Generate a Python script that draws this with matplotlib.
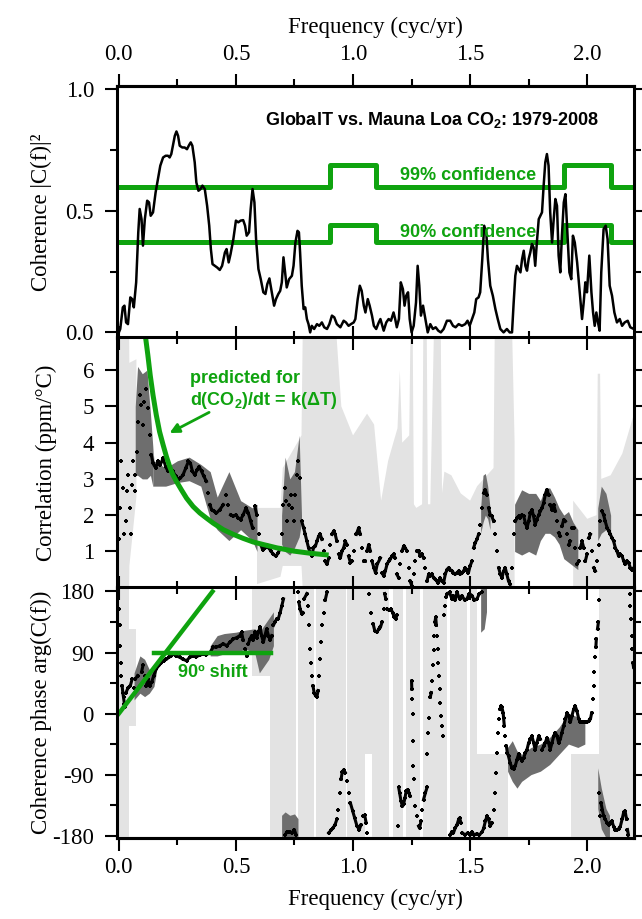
import numpy as np
import matplotlib.pyplot as plt
from matplotlib.ticker import FixedLocator, FormatStrFormatter

# ---- panel 1: squared coherence ----
coherence_pts = [
    (0.000, 0.000), (0.006, 0.014), (0.017, 0.103), (0.024, 0.110), (0.031, 0.041), (0.039, 0.034),
    (0.049, 0.144), (0.057, 0.137), (0.064, 0.103), (0.074, 0.206), (0.083, 0.412), (0.089, 0.508),
    (0.097, 0.466), (0.103, 0.357), (0.111, 0.466), (0.121, 0.542), (0.129, 0.535), (0.136, 0.480),
    (0.146, 0.494), (0.157, 0.576), (0.167, 0.631), (0.177, 0.686), (0.189, 0.720), (0.200, 0.727),
    (0.210, 0.727), (0.217, 0.720), (0.224, 0.734), (0.231, 0.768), (0.239, 0.809), (0.246, 0.827),
    (0.253, 0.809), (0.260, 0.768), (0.271, 0.761), (0.281, 0.761), (0.291, 0.754), (0.300, 0.771),
    (0.307, 0.782), (0.314, 0.768), (0.324, 0.700), (0.331, 0.617), (0.340, 0.583), (0.349, 0.590),
    (0.357, 0.604), (0.367, 0.590), (0.377, 0.521), (0.386, 0.439), (0.393, 0.343), (0.400, 0.281),
    (0.410, 0.274), (0.420, 0.267), (0.431, 0.257), (0.441, 0.274), (0.453, 0.329), (0.460, 0.343),
    (0.469, 0.288), (0.477, 0.322), (0.489, 0.384), (0.500, 0.460), (0.510, 0.453), (0.520, 0.460),
    (0.531, 0.462), (0.539, 0.439), (0.546, 0.398), (0.556, 0.412), (0.563, 0.508), (0.571, 0.590),
    (0.579, 0.535), (0.586, 0.384), (0.596, 0.261), (0.606, 0.219), (0.617, 0.165), (0.626, 0.158),
    (0.634, 0.199), (0.643, 0.222), (0.653, 0.165), (0.663, 0.110), (0.671, 0.137), (0.681, 0.158),
    (0.689, 0.171), (0.696, 0.206), (0.703, 0.309), (0.710, 0.247), (0.717, 0.185), (0.727, 0.219),
    (0.739, 0.233), (0.746, 0.274), (0.754, 0.370), (0.763, 0.418), (0.769, 0.412), (0.774, 0.329),
    (0.781, 0.192), (0.789, 0.096), (0.796, 0.103), (0.803, 0.055), (0.810, 0.034), (0.817, 0.000),
    (0.824, 0.027), (0.834, 0.014), (0.846, 0.034), (0.856, 0.027), (0.867, 0.041), (0.877, 0.021),
    (0.889, 0.014), (0.899, 0.034), (0.910, 0.069), (0.920, 0.062), (0.931, 0.034), (0.946, 0.021),
    (0.960, 0.048), (0.970, 0.041), (0.981, 0.027), (0.991, 0.034), (1.003, 0.041), (1.010, 0.055),
    (1.020, 0.137), (1.029, 0.192), (1.037, 0.171), (1.046, 0.110), (1.053, 0.082), (1.063, 0.137),
    (1.071, 0.110), (1.081, 0.069), (1.089, 0.027), (1.099, 0.014), (1.110, 0.041), (1.117, 0.055),
    (1.131, 0.007), (1.142, 0.041), (1.152, 0.055), (1.162, 0.048), (1.173, 0.082), (1.180, 0.055),
    (1.187, 0.021), (1.196, 0.055), (1.204, 0.206), (1.213, 0.178), (1.220, 0.110), (1.227, 0.151),
    (1.235, 0.165), (1.242, 0.055), (1.250, 0.000), (1.259, 0.027), (1.269, 0.123), (1.276, 0.274),
    (1.283, 0.192), (1.290, 0.069), (1.299, 0.110), (1.309, 0.055), (1.319, 0.000), (1.330, 0.034),
    (1.341, 0.014), (1.353, 0.021), (1.364, 0.007), (1.375, 0.000), (1.387, 0.014), (1.401, 0.048),
    (1.415, 0.048), (1.427, 0.027), (1.438, 0.021), (1.451, 0.034), (1.465, 0.027), (1.479, 0.034),
    (1.489, 0.048), (1.498, 0.027), (1.508, 0.055), (1.518, 0.082), (1.526, 0.137), (1.536, 0.144),
    (1.543, 0.165), (1.552, 0.302), (1.560, 0.439), (1.569, 0.412), (1.576, 0.302), (1.586, 0.192),
    (1.597, 0.151), (1.608, 0.096), (1.618, 0.055), (1.629, 0.014), (1.643, 0.000), (1.657, 0.014),
    (1.669, 0.000), (1.679, 0.000), (1.686, 0.123), (1.693, 0.233), (1.700, 0.274), (1.707, 0.261),
    (1.715, 0.247), (1.722, 0.302), (1.729, 0.336), (1.736, 0.274), (1.743, 0.254), (1.750, 0.302),
    (1.757, 0.329), (1.764, 0.364), (1.771, 0.350), (1.778, 0.274), (1.785, 0.370), (1.793, 0.466),
    (1.800, 0.480), (1.807, 0.494), (1.814, 0.604), (1.821, 0.700), (1.828, 0.734), (1.835, 0.686),
    (1.842, 0.494), (1.850, 0.370), (1.857, 0.466), (1.864, 0.549), (1.871, 0.521), (1.878, 0.316),
    (1.885, 0.247), (1.892, 0.398), (1.900, 0.535), (1.907, 0.569), (1.914, 0.439), (1.924, 0.247),
    (1.932, 0.219), (1.939, 0.398), (1.947, 0.370), (1.957, 0.288), (1.968, 0.165), (1.978, 0.055),
    (1.985, 0.123), (1.992, 0.206), (1.999, 0.165), (2.009, 0.316), (2.018, 0.165), (2.025, 0.082),
    (2.032, 0.027), (2.039, 0.082), (2.046, 0.041), (2.053, 0.007), (2.060, 0.247), (2.070, 0.425),
    (2.079, 0.439), (2.087, 0.384), (2.096, 0.192), (2.106, 0.151), (2.116, 0.082), (2.127, 0.041),
    (2.139, 0.055), (2.149, 0.027), (2.160, 0.041), (2.173, 0.048), (2.184, 0.021), (2.199, 0.014),
]
conf_f = [0.0, 0.9, 0.9, 1.1, 1.1, 1.9, 1.9, 2.1, 2.1, 2.2]
conf99 = [0.60, 0.60, 0.69, 0.69, 0.60, 0.60, 0.69, 0.69, 0.60, 0.60]
conf90 = [0.37, 0.37, 0.44, 0.44, 0.37, 0.37, 0.44, 0.44, 0.37, 0.37]

# ---- panel 2: correlation amplitude (ppm/C) ----
corr_pts = [
    (0.000, 1.33), (0.006, 2.20), (0.011, 3.48), (0.017, 2.75), (0.023, 1.47), (0.029, 1.83),
    (0.034, 2.66), (0.040, 3.11), (0.046, 2.20), (0.051, 1.47), (0.056, 2.84), (0.060, 3.48),
    (0.067, 3.11), (0.071, 2.66), (0.077, 3.75), (0.083, 4.58), (0.089, 5.31), (0.096, 5.04),
    (0.103, 4.49), (0.109, 5.13), (0.117, 5.49), (0.124, 4.95), (0.131, 4.21), (0.139, 3.66),
    (0.146, 3.43), (0.157, 3.30), (0.167, 3.48), (0.177, 3.39), (0.189, 3.57), (0.200, 3.34),
    (0.210, 3.21), (0.220, 3.30), (0.231, 3.21), (0.243, 3.07), (0.253, 2.98), (0.263, 3.02),
    (0.274, 3.11), (0.286, 3.30), (0.297, 3.48), (0.306, 3.43), (0.314, 3.21), (0.324, 3.11),
    (0.334, 3.25), (0.343, 3.34), (0.353, 3.21), (0.363, 3.07), (0.374, 2.93), (0.381, 2.61),
    (0.389, 2.29), (0.396, 2.15), (0.406, 2.11), (0.417, 2.06), (0.431, 2.15), (0.446, 2.29),
    (0.457, 2.56), (0.467, 2.29), (0.477, 2.01), (0.489, 1.97), (0.500, 2.01), (0.510, 1.92),
    (0.520, 1.88), (0.531, 2.01), (0.543, 2.20), (0.553, 2.06), (0.563, 1.83), (0.571, 1.65),
    (0.581, 2.24), (0.589, 2.01), (0.597, 1.47), (0.606, 1.19), (0.614, 1.05), (0.623, 1.10),
    (0.631, 1.19), (0.640, 1.10), (0.649, 1.01), (0.660, 0.92), (0.671, 0.87), (0.681, 0.96),
    (0.689, 1.10), (0.696, 1.47), (0.703, 2.29), (0.709, 2.75), (0.714, 2.38), (0.720, 1.83),
    (0.727, 2.29), (0.734, 2.56), (0.741, 2.20), (0.749, 1.83), (0.754, 2.56), (0.760, 3.11),
    (0.767, 3.48), (0.774, 3.02), (0.781, 1.83), (0.789, 1.65), (0.796, 1.47), (0.803, 1.28),
    (0.810, 1.10), (0.817, 0.96), (0.824, 0.87), (0.831, 1.10), (0.839, 1.14), (0.846, 1.28),
    (0.853, 1.42), (0.860, 1.47), (0.867, 1.33), (0.874, 1.01), (0.881, 0.73), (0.889, 0.64),
    (0.896, 0.82), (0.903, 1.19), (0.910, 1.47), (0.917, 1.56), (0.924, 1.47), (0.931, 1.28),
    (0.939, 0.92), (0.946, 0.82), (0.953, 1.01), (0.960, 1.10), (0.967, 1.28), (0.974, 1.19),
    (0.981, 0.87), (0.989, 0.69), (0.996, 0.73), (1.003, 1.01), (1.014, 1.47), (1.024, 1.65),
    (1.031, 1.47), (1.039, 1.10), (1.046, 0.73), (1.053, 0.73), (1.060, 1.01), (1.067, 1.19),
    (1.074, 1.01), (1.081, 0.73), (1.089, 0.55), (1.096, 0.41), (1.103, 0.64), (1.117, 0.82),
    (1.124, 0.41), (1.131, 0.32), (1.138, 0.46), (1.145, 0.64), (1.152, 0.73), (1.159, 0.78),
    (1.166, 0.87), (1.173, 0.92), (1.180, 0.82), (1.187, 0.37), (1.195, 0.27), (1.202, 0.64),
    (1.209, 1.01), (1.216, 1.14), (1.223, 1.10), (1.230, 1.01), (1.237, 0.55), (1.244, 0.18),
    (1.251, 0.05), (1.259, 0.37), (1.266, 0.73), (1.273, 1.01), (1.280, 1.01), (1.287, 0.87),
    (1.294, 0.92), (1.301, 0.82), (1.309, 0.55), (1.316, 0.18), (1.323, 0.37), (1.330, 0.32),
    (1.337, 0.37), (1.344, 0.27), (1.351, 0.23), (1.358, 0.18), (1.365, 0.14), (1.372, 0.27),
    (1.379, 0.18), (1.387, 0.14), (1.394, 0.37), (1.401, 0.50), (1.408, 0.55), (1.415, 0.50),
    (1.422, 0.46), (1.429, 0.41), (1.436, 0.37), (1.444, 0.41), (1.451, 0.46), (1.458, 0.37),
    (1.465, 0.41), (1.472, 0.46), (1.479, 0.55), (1.486, 0.50), (1.493, 0.41), (1.500, 0.60),
    (1.508, 0.73), (1.515, 1.10), (1.522, 1.24), (1.529, 1.33), (1.536, 1.47), (1.543, 1.74),
    (1.550, 2.20), (1.558, 2.61), (1.565, 2.70), (1.572, 2.56), (1.579, 2.20), (1.586, 2.01),
    (1.593, 1.97), (1.600, 1.83), (1.607, 1.47), (1.615, 1.01), (1.622, 0.55), (1.629, 0.37),
    (1.636, 0.27), (1.643, 0.46), (1.650, 0.55), (1.657, 0.37), (1.664, 0.18), (1.671, 0.09),
    (1.679, 0.55), (1.686, 1.47), (1.693, 1.83), (1.700, 1.92), (1.707, 1.97), (1.714, 1.92),
    (1.721, 2.01), (1.729, 1.97), (1.736, 1.79), (1.743, 1.65), (1.750, 1.83), (1.757, 2.06),
    (1.764, 2.15), (1.771, 1.97), (1.778, 1.74), (1.785, 1.88), (1.793, 2.01), (1.800, 2.11),
    (1.807, 2.20), (1.814, 2.34), (1.821, 2.56), (1.828, 2.70), (1.835, 2.56), (1.842, 2.29),
    (1.850, 2.15), (1.857, 2.29), (1.864, 2.11), (1.871, 1.83), (1.878, 1.51), (1.885, 1.42),
    (1.892, 1.69), (1.900, 1.88), (1.907, 1.83), (1.914, 1.47), (1.921, 1.19), (1.928, 1.28),
    (1.935, 1.65), (1.942, 1.65), (1.949, 1.10), (1.956, 0.64), (1.964, 0.73), (1.971, 1.10),
    (1.978, 1.28), (1.985, 1.10), (1.992, 0.73), (1.999, 0.92), (2.006, 1.37), (2.014, 1.47),
    (2.021, 1.01), (2.028, 0.55), (2.035, 0.46), (2.042, 0.73), (2.049, 1.19), (2.056, 1.83),
    (2.063, 2.11), (2.070, 2.01), (2.077, 1.83), (2.085, 1.65), (2.092, 1.56), (2.099, 1.47),
    (2.106, 1.37), (2.113, 1.28), (2.120, 1.10), (2.127, 1.01), (2.134, 0.87), (2.141, 0.92),
    (2.149, 0.87), (2.156, 0.73), (2.163, 0.64), (2.170, 0.73), (2.177, 0.69), (2.184, 0.55),
    (2.191, 0.50), (2.199, 0.55),
]
predicted_f = [0.114, 0.124, 0.134, 0.146, 0.160, 0.174, 0.189, 0.203, 0.217, 0.231, 0.246, 0.267, 0.289,
               0.317, 0.346, 0.374, 0.403, 0.446, 0.489, 0.531, 0.574, 0.617, 0.674, 0.746, 0.817, 0.896]
predicted_v = [6.91, 6.41, 5.86, 5.31, 4.76, 4.30, 3.94, 3.62, 3.34, 3.11, 2.93, 2.70, 2.47,
               2.24, 2.06, 1.92, 1.78, 1.60, 1.47, 1.36, 1.26, 1.19, 1.10, 1.01, 0.95, 0.90]

nan = np.nan
corr_gray_f = [0.0, 0.044, 0.045, 0.075, 0.076, 0.58, 0.59, 0.69, 0.70, 0.78, 0.785, 0.93, 0.95, 1.0,
               1.06, 1.09, 1.12, 1.15, 1.19, 1.20, 1.21, 1.24, 1.245, 1.255, 1.26, 1.27, 1.295, 1.30,
               1.315, 1.32, 1.33, 1.345, 1.35, 1.375, 1.38, 1.39, 1.42, 1.46, 1.50, 1.53, 1.60, 1.605,
               1.68, 1.69, 1.70, 1.93, 1.94, 2.0, 2.04, 2.045, 2.055, 2.06, 2.10, 2.15, 2.2]
corr_gray_hi = [6.9, 6.9, 6.2, 6.3, nan, nan, 2.2, 2.2, 3.3, 4.2, 6.9, 6.9, 5.0, 4.2,
                4.8, 4.5, 2.4, 3.5, 4.4, 6.0, 4.0, 4.2, 6.9, 6.9, 2.3, 2.2, 2.3, 6.9,
                6.9, 2.3, 2.3, 6.9, 6.9, 6.9, 2.6, 3.2, 3.1, 2.6, 2.4, 2.8, 3.3, 6.9,
                6.9, 4.0, nan, nan, 2.4, 1.9, 2.0, 5.9, 5.9, 3.0, 3.1, 3.7, 4.8]
corr_gray_lo = [0.0, 0.0, 0.6, 2.5, nan, nan, 0.1, 0.3, 0.6, 0.6, 0.0, 0.0, 0.0, 0.0,
                0.0, 0.0, 0.0, 0.0, 0.0, 0.0, 0.0, 0.0, 0.0, 0.0, 0.0, 0.0, 0.0, 0.0,
                0.0, 0.0, 0.0, 0.0, 0.0, 0.0, 0.0, 0.0, 0.0, 0.0, 0.0, 0.0, 0.0, 0.0,
                0.0, 0.0, nan, nan, 0.0, 0.0, 0.0, 0.0, 0.0, 0.0, 0.0, 0.0, 0.0]

corr_dark_f = [
    [0.07, 0.08, 0.10, 0.12, 0.135, 0.145],
    [0.145, 0.15, 0.20, 0.25, 0.30, 0.35, 0.39, 0.42, 0.47, 0.52, 0.57, 0.59],
    [0.695, 0.71, 0.73, 0.75, 0.77, 0.78],
    [1.545, 1.555, 1.565, 1.575, 1.585],
    [1.69, 1.72, 1.75, 1.78, 1.80, 1.82, 1.84, 1.86, 1.88, 1.90, 1.92, 1.94, 1.96],
    [2.045, 2.06, 2.08, 2.10],
]
corr_dark_hi = [
    [5.0, 6.1, 5.9, 6.0, 4.8, 3.9],
    [3.9, 3.5, 3.3, 3.5, 3.6, 3.4, 3.2, 2.5, 3.2, 2.4, 2.2, 2.3],
    [2.0, 3.6, 3.0, 3.2, 4.2, 2.0],
    [2.2, 3.1, 3.15, 2.8, 2.2],
    [2.3, 2.7, 2.6, 2.6, 2.4, 2.75, 2.75, 2.5, 2.2, 2.0, 2.1, 1.8, 1.6],
    [2.2, 2.8, 2.6, 2.0],
]
corr_dark_lo = [
    [3.1, 3.1, 3.0, 3.0, 3.1, 2.8],
    [2.8, 2.8, 2.8, 2.9, 2.95, 2.8, 1.9, 1.6, 1.3, 1.6, 1.3, 1.0],
    [1.2, 1.0, 0.9, 1.1, 1.4, 1.8],
    [1.5, 1.8, 2.0, 1.9, 1.6],
    [1.0, 0.9, 1.0, 0.9, 1.3, 1.5, 1.5, 1.4, 1.2, 0.8, 0.7, 0.6, 0.5],
    [1.3, 1.5, 1.6, 1.5],
]

# ---- panel 3: coherence phase (degrees) ----
phase_pts = [
    (0.000, 154), (0.003, 130), (0.006, 100), (0.009, 75), (0.011, 56), (0.014, 41), (0.017, 31),
    (0.020, 24), (0.024, 14), (0.027, 10), (0.031, 31), (0.039, 38), (0.049, 41), (0.057, 51),
    (0.064, 38), (0.071, 51), (0.080, 56), (0.089, 41), (0.097, 61), (0.103, 71), (0.110, 56),
    (0.117, 41), (0.124, 51), (0.131, 41), (0.140, 46), (0.149, 56), (0.160, 66), (0.171, 71),
    (0.181, 75), (0.191, 78), (0.203, 80), (0.214, 83), (0.224, 85), (0.234, 88), (0.246, 85),
    (0.260, 83), (0.274, 80), (0.289, 78), (0.303, 83), (0.317, 85), (0.331, 84), (0.346, 86),
    (0.360, 88), (0.374, 87), (0.389, 90), (0.403, 98), (0.417, 98), (0.431, 100), (0.446, 103),
    (0.460, 100), (0.474, 105), (0.489, 110), (0.503, 112), (0.517, 115), (0.524, 120), (0.531, 108),
    (0.539, 95), (0.546, 85), (0.553, 103), (0.560, 110), (0.567, 115), (0.574, 108), (0.581, 120),
    (0.589, 112), (0.596, 120), (0.603, 127), (0.610, 115), (0.617, 105), (0.624, 115), (0.631, 125),
    (0.639, 115), (0.646, 108), (0.653, 115), (0.660, 130), (0.667, 135), (0.674, 140), (0.681, 140),
    (0.689, 149), (0.696, 159), (0.703, 169), (0.710, -179), (0.717, -175), (0.724, -174),
    (0.731, -175), (0.739, -176), (0.749, -171), (0.757, -179), (0.763, 179), (0.769, 164),
    (0.774, 154), (0.781, 147), (0.786, 149), (0.791, 169), (0.803, 177), (0.807, 159), (0.811, 130),
    (0.816, 95), (0.820, 75), (0.824, 56), (0.829, 41), (0.834, 31), (0.840, 26), (0.846, 25),
    (0.851, 34), (0.856, 56), (0.860, 80), (0.864, 105), (0.869, 130), (0.874, 149), (0.881, 167),
    (0.889, 179), (0.896, -176), (0.906, -172), (0.914, -169), (0.923, -164), (0.931, -156),
    (0.937, -142), (0.943, -117), (0.949, -97), (0.954, -86), (0.960, -83), (0.967, -87),
    (0.974, -100), (0.981, -117), (0.989, -132), (0.999, -144), (1.007, -154), (1.017, -166),
    (1.027, -171), (1.034, -164), (1.043, -151), (1.050, -150), (1.056, -161), (1.061, -176),
    (1.069, 177), (1.077, 149), (1.086, 132), (1.093, 122), (1.103, 120), (1.110, 125), (1.117, 127),
    (1.124, 135), (1.131, 154), (1.135, 177), (1.140, 169), (1.147, 154), (1.155, 152), (1.162, 154),
    (1.169, 149), (1.176, 142), (1.183, 140), (1.187, 145), (1.190, -166), (1.195, -109),
    (1.199, -117), (1.205, -129), (1.211, -137), (1.216, -134), (1.222, -124), (1.227, -114),
    (1.233, -112), (1.239, -117), (1.244, -122), (1.250, 48), (1.251, 36), (1.253, 21), (1.254, -1),
    (1.256, -40), (1.258, -77), (1.260, -97), (1.266, -137), (1.273, -151), (1.280, -166),
    (1.284, -169), (1.290, -159), (1.296, -142), (1.301, -127), (1.309, -117), (1.316, -109),
    (1.318, -60), (1.321, -28), (1.325, -6), (1.330, 24), (1.334, 31), (1.338, 48), (1.341, 71),
    (1.344, 93), (1.347, 115), (1.350, 135), (1.353, 142), (1.356, 130), (1.358, 115), (1.361, 95),
    (1.364, 75), (1.367, 56), (1.370, 36), (1.373, 16), (1.376, -3), (1.380, -18), (1.384, -33),
    (1.387, 145), (1.392, 159), (1.398, 172), (1.403, 177), (1.412, 179), (1.422, 169), (1.429, 174),
    (1.436, 167), (1.444, 179), (1.455, 169), (1.465, 174), (1.477, 167), (1.486, 169), (1.497, 177),
    (1.508, 174), (1.518, 167), (1.529, 169), (1.540, 177), (1.550, 179),
    (1.415, -179), (1.422, -174), (1.429, -176), (1.436, -169), (1.444, -164), (1.451, -156),
    (1.455, -154), (1.461, -161), (1.467, -176), (1.479, -179), (1.489, -176), (1.500, -179),
    (1.509, -175), (1.518, -179), (1.529, -177), (1.540, -179), (1.552, -174), (1.558, -169),
    (1.565, -159), (1.572, -151), (1.579, -156), (1.586, -166), (1.593, -161), (1.600, -142),
    (1.606, -117), (1.610, -87), (1.615, -58), (1.619, -28), (1.623, -8), (1.628, 6), (1.632, 11),
    (1.636, 9), (1.641, 1), (1.643, -6), (1.646, -18), (1.650, -33), (1.655, -48), (1.659, -58),
    (1.664, -63), (1.671, -73), (1.679, -80), (1.686, -82), (1.693, -77), (1.700, -68), (1.707, -60),
    (1.714, -65), (1.721, -70), (1.729, -65), (1.736, -58), (1.743, -53), (1.750, -43), (1.757, -38),
    (1.764, -33), (1.771, -43), (1.778, -53), (1.785, -43), (1.793, -33), (1.800, -38), (1.807, -53),
    (1.814, -48), (1.821, -43), (1.828, -36), (1.835, -43), (1.842, -53), (1.850, -43), (1.857, -33),
    (1.864, -28), (1.871, -33), (1.878, -43), (1.885, -38), (1.892, -28), (1.900, -18), (1.907, -8),
    (1.914, 1), (1.921, -3), (1.928, -13), (1.935, -3), (1.942, 6), (1.949, 11), (1.956, 4),
    (1.964, -8), (1.971, -13), (1.978, -13), (1.985, -13), (1.992, -13), (1.999, -13), (2.006, -11),
    (2.014, -8), (2.019, 1), (2.024, 21), (2.028, 41), (2.031, 61), (2.034, 83), (2.037, 98),
    (2.039, 110), (2.044, 125), (2.048, 135), (2.051, 167), (2.051, -117), (2.054, -151),
    (2.059, -132), (2.065, -142), (2.070, -151), (2.077, -156), (2.085, -161), (2.092, -164),
    (2.099, -162), (2.106, -159), (2.113, -167), (2.120, -171), (2.127, -171), (2.134, -170),
    (2.141, -167), (2.149, -156), (2.156, -145), (2.162, -144), (2.168, -156), (2.172, -171),
    (2.176, -179), (2.181, 177), (2.184, 159), (2.187, 140), (2.190, 115), (2.192, 95), (2.195, 75),
    (2.198, 68),
]
lag_line_f = [0.0, 0.4]
lag_line_p = [0, 180]
shift_f = [0.15, 0.649]
shift_p = [90, 90]

phase_gray_f0 = [0.0, 0.045, 0.57, 0.645, 0.765, 0.84, 0.975, 1.05, 1.08, 1.17, 1.225, 1.30, 1.415, 1.50, 1.53, 1.93, 2.05]
phase_gray_f1 = [0.045, 0.075, 0.645, 0.755, 0.835, 0.97, 1.05, 1.08, 1.155, 1.215, 1.285, 1.40, 1.485, 1.53, 1.66, 2.05, 2.2]
phase_gray_lo = [-185, -18, 55, -185, -185, -185, -185, -60, -185, -185, -185, -185, -185, -185, -185, -185, -185]
phase_gray_hi = [190, 125, 190, 190, 190, 190, 190, 190, 190, 190, 190, 190, 190, 190, -60, -60, 190]

phase_dark_f = [
    [0.065, 0.09, 0.11, 0.13, 0.15, 0.16],
    [0.39, 0.42, 0.45, 0.50, 0.54, 0.58, 0.60, 0.62, 0.64, 0.66],
    [0.695, 0.71, 0.73, 0.75, 0.765],
    [1.545, 1.56, 1.57],
    [1.66, 1.68, 1.70, 1.72, 1.76, 1.80, 1.84, 1.88, 1.92, 1.96, 1.99],
    [2.045, 2.06, 2.08, 2.095],
]
phase_dark_hi = [
    [60, 85, 80, 65, 70, 75],
    [100, 115, 118, 120, 123, 125, 120, 130, 140, 150],
    [-150, -145, -150, -148, -155],
    [186, 186, 186],
    [-50, -40, -55, -60, -50, -45, -35, -20, 0, -5, -15],
    [-80, -110, -140, -150],
]
phase_dark_lo = [
    [20, 30, 25, 30, 40, 60],
    [85, 85, 88, 90, 95, 90, 60, 70, 80, 100],
    [-183, -183, -183, -183, -183],
    [120, 125, 150],
    [-85, -100, -110, -100, -90, -85, -75, -60, -45, -50, -45],
    [-140, -170, -183, -183],
]

freq_ticks = [0.0, 0.5, 1.0, 1.5, 2.0]
freq_minor = [0.25, 0.75, 1.25, 1.75]

green = '#0fa30f'
light = '#e3e3e3'
dark = '#6e6e6e'

plt.rcParams['font.family'] = 'Liberation Serif'
plt.rcParams['axes.unicode_minus'] = False
plt.rcParams['mathtext.fontset'] = 'custom'
plt.rcParams['mathtext.rm'] = 'Liberation Sans:bold'
plt.rcParams['mathtext.it'] = 'Liberation Sans:bold'
plt.rcParams['mathtext.bf'] = 'Liberation Sans:bold'


def broken(pts, jump):
    # split the sampled curve wherever neighbouring samples are far apart,
    # so steep stretches show up as separate dots like in the original
    xs, ys = [], []
    for i, (x, y) in enumerate(pts):
        if i > 0 and (abs(y - pts[i - 1][1]) > jump or x < pts[i - 1][0]):
            xs.append(nan)
            ys.append(nan)
        xs.append(x)
        ys.append(y)
    return xs, ys


def freq_axis(axis, direction, length_major=9, labels=False, pad=5):
    axis.set_major_locator(FixedLocator(freq_ticks))
    axis.set_minor_locator(FixedLocator(freq_minor))
    axis.set_major_formatter(FormatStrFormatter('%.1f'))


fig = plt.figure(figsize=(6.42, 9.19), dpi=100)
ax1 = fig.add_axes([0.182, 0.6325, 0.8056, 0.2739])
ax2 = fig.add_axes([0.182, 0.3605, 0.8056, 0.2723])
ax3 = fig.add_axes([0.182, 0.0885, 0.8056, 0.2723])


def style(ax):
    ax.set_xlim(-0.0085, 2.2)
    ax.xaxis.set_major_locator(FixedLocator(freq_ticks))
    ax.xaxis.set_minor_locator(FixedLocator(freq_minor))
    ax.xaxis.set_major_formatter(FormatStrFormatter('%.1f'))
    for s in ax.spines.values():
        s.set_linewidth(2.2)
        s.set_zorder(6)
    ax.tick_params(which='both', width=1.5, labelsize=16.5, pad=7.5)
    ax.tick_params(which='major', length=9)
    ax.tick_params(which='minor', length=4.8)
    ax.tick_params(axis='y', which='both', direction='out', left=True, right=True)
    ax.tick_params(axis='x', which='both', direction='in', top=True, bottom=True, labelbottom=False)


def outer_axis(sec):
    sec.xaxis.set_major_locator(FixedLocator(freq_ticks))
    sec.xaxis.set_minor_locator(FixedLocator(freq_minor))
    sec.xaxis.set_major_formatter(FormatStrFormatter('%.1f'))
    sec.tick_params(which='both', direction='out', width=1.5, labelsize=16.5)
    sec.tick_params(which='major', length=9)
    sec.tick_params(which='minor', length=4.8)
    for s in sec.spines.values():
        s.set_linewidth(2.2)


for ax in (ax1, ax2, ax3):
    style(ax)

# panel 1
cf, cc = zip(*coherence_pts)
ax1.plot(cf, cc, color='black', lw=1.8, zorder=3)
ax1.plot(conf_f, conf99, color=green, lw=3.6, zorder=2)
ax1.plot(conf_f, conf90, color=green, lw=3.6, zorder=2)
ax1.set_ylim(-0.022, 1.014)
ax1.yaxis.set_major_locator(FixedLocator([0.0, 0.5, 1.0]))
ax1.yaxis.set_minor_locator(FixedLocator([0.25, 0.75]))
ax1.yaxis.set_major_formatter(FormatStrFormatter('%.1f'))
ax1.tick_params(axis='x', which='both', top=False)
ax1.set_ylabel('Coherence |C(f)|²', fontsize=16.5)
ax1.yaxis.set_label_coords(-0.125, 0.5)
ax1.text(2.052, 0.874, 'GlobalT vs. Mauna Loa CO$_2$: 1979-2008', ha='right', va='center',
         fontsize=13, fontweight='bold', family='Liberation Sans')
ax1.text(1.202, 0.645, '99% confidence', ha='left', va='center', fontsize=13,
         fontweight='bold', family='Liberation Sans', color=green)
ax1.text(1.202, 0.41, '90% confidence', ha='left', va='center', fontsize=13,
         fontweight='bold', family='Liberation Sans', color=green)
top = ax1.secondary_xaxis('top')
outer_axis(top)
top.tick_params(pad=6)
top.set_xlabel('Frequency (cyc/yr)', fontsize=16.5, labelpad=8)

# panel 2
ax2.fill_between(corr_gray_f, corr_gray_lo, corr_gray_hi, color=light, lw=0, zorder=1)
for f, lo, hi in zip(corr_dark_f, corr_dark_lo, corr_dark_hi):
    ax2.fill_between(f, lo, hi, color=dark, lw=0, zorder=1.5)
pf, pv = zip(*corr_pts)
ax2.plot(pf, pv, ls='none', marker='+', ms=3.2, mew=1.5, color='black', zorder=3)
bx, by = broken(corr_pts, 0.25)
ax2.plot(bx, by, color='black', lw=2.2, zorder=3)
ax2.plot(predicted_f, predicted_v, color=green, lw=3.6, solid_capstyle='butt', zorder=4)
ax2.set_ylim(0, 6.9)
ax2.yaxis.set_major_locator(FixedLocator([1, 2, 3, 4, 5, 6]))
ax2.yaxis.set_major_formatter(FormatStrFormatter('%d'))
ax2.set_ylabel('Correlation (ppm/°C)', fontsize=16.5)
ax2.yaxis.set_label_coords(-0.115, 0.5)
ax2.text(0.303, 5.77, 'predicted for', ha='left', va='center', fontsize=13,
         fontweight='bold', family='Liberation Sans', color=green)
ax2.text(0.303, 5.17, 'd(CO$_2$)/dt = k(ΔT)', ha='left', va='center', fontsize=13,
         fontweight='bold', family='Liberation Sans', color=green)
ax2.annotate('', xy=(0.206, 4.23), xytext=(0.396, 4.87),
             arrowprops=dict(arrowstyle='-|>', color=green, lw=2, mutation_scale=14), zorder=5)

# panel 3
for f0, f1, lo, hi in zip(phase_gray_f0, phase_gray_f1, phase_gray_lo, phase_gray_hi):
    ax3.fill_between([f0, f1], lo, hi, color=light, lw=0, zorder=1)
for f, lo, hi in zip(phase_dark_f, phase_dark_lo, phase_dark_hi):
    ax3.fill_between(f, lo, hi, color=dark, lw=0, zorder=1.5)
hf, hp = zip(*phase_pts)
ax3.plot(hf, hp, ls='none', marker='+', ms=3.2, mew=1.5, color='black', zorder=3)
bx, by = broken(phase_pts, 12)
ax3.plot(bx, by, color='black', lw=2.2, zorder=3)
ax3.plot(lag_line_f, lag_line_p, color=green, lw=3.2, zorder=4)
ax3.plot(shift_f, shift_p, color=green, lw=3.2, zorder=4)
ax3.text(0.253, 61, '90º shift', ha='left', va='center', fontsize=13,
         fontweight='bold', family='Liberation Sans', color=green)
ax3.set_ylim(-183, 186)
ax3.yaxis.set_major_locator(FixedLocator([-180, -90, 0, 90, 180]))
ax3.yaxis.set_minor_locator(FixedLocator([-135, -45, 45, 135]))
ax3.set_ylabel('Coherence phase arg(C(f))', fontsize=16.5)
ax3.yaxis.set_label_coords(-0.125, 0.5)
ax3.tick_params(axis='x', which='both', bottom=False)
bot = ax3.secondary_xaxis('bottom')
outer_axis(bot)
bot.tick_params(pad=5)
bot.set_xlabel('Frequency (cyc/yr)', fontsize=16.5, labelpad=8)

fig.savefig('out.png', dpi=100)
